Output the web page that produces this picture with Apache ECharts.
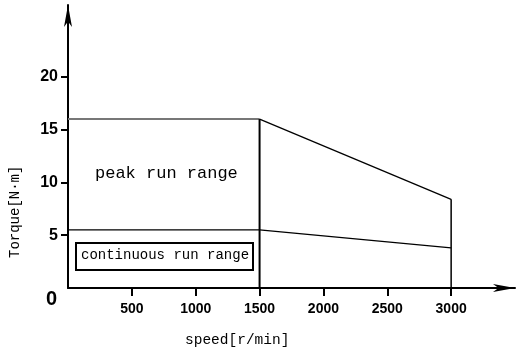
<!DOCTYPE html>
<html>
<head>
<meta charset="utf-8">
<script src="https://cdn.jsdelivr.net/npm/echarts@6/dist/echarts.min.js"></script>
<style>
  html, body { margin: 0; padding: 0; background: #fff; }
  #chart { width: 516px; height: 351px; }
</style>
</head>
<body>
<div id="chart"></div>
<script>
// corner points of the torque-speed envelope
const speedPoints = [0, 1500, 3000];
const peakTorque = [16, 16, 8.4];
const contTorque = [5.5, 5.5, 3.8];

const speedTicks = [500, 1000, 1500, 2000, 2500, 3000];
const torqueTicks = [5, 10, 15, 20];

const mono = '"Liberation Mono", "DejaVu Sans Mono", monospace';
const narrow = '"Liberation Sans Narrow", "Liberation Sans", sans-serif';

function pairs(xs, ys) {
    return xs.map((x, i) => [x, ys[i]]);
}

let peakData = pairs(speedPoints, peakTorque);
let contData = pairs(speedPoints, contTorque);
// vertical drop lines at base speed and max speed
let baseDrop = [[speedPoints[1], 0], [speedPoints[1], peakTorque[1]]];
let maxDrop = [[speedPoints[2], peakTorque[2]], [speedPoints[2], 0]];

const lineSeries = (data, color, width) => ({
    type: 'line',
    data: data,
    symbol: 'none',
    silent: true,
    animation: false,
    lineStyle: {color: color, width: width}
});

let myChart = echarts.init(document.getElementById('chart'));
let option = {
    animation: false,
    grid: {left: 68, right: 1, top: 5, bottom: 63, outerBoundsMode: 'none', containLabel: false},
    xAxis: {
        type: 'value',
        min: 0,
        max: 3500,
        splitLine: {show: false},
        axisLine: {
            lineStyle: {color: '#000', width: 2},
            symbol: ['none', 'arrow'],
            symbolSize: [6, 22]
        },
        axisTick: {
            customValues: speedTicks,
            length: 8,
            inside: false,
            lineStyle: {color: '#000', width: 2}
        },
        axisLabel: {
            customValues: speedTicks,
            formatter: v => String(v),
            margin: 14,
            color: '#000',
            fontFamily: narrow,
            fontWeight: 'bold',
            fontSize: 14
        }
    },
    yAxis: {
        type: 'value',
        min: 0,
        max: 26.8,
        splitLine: {show: false},
        axisLine: {
            lineStyle: {color: '#000', width: 2},
            symbol: ['none', 'arrow'],
            symbolSize: [6, 22]
        },
        axisTick: {
            customValues: torqueTicks,
            length: 7,
            lineStyle: {color: '#000', width: 2}
        },
        axisLabel: {
            customValues: torqueTicks,
            formatter: v => String(v),
            margin: 10,
            color: '#000',
            fontFamily: narrow,
            fontWeight: 'bold',
            fontSize: 16
        }
    },
    graphic: [
        {
            type: 'text',
            left: 46,
            top: 289,
            style: {text: '0', fontFamily: narrow, fontWeight: 'bold', fontSize: 20, fill: '#000'}
        },
        {
            type: 'text',
            x: 8,
            y: 258,
            rotation: Math.PI / 2,
            style: {text: 'Torque[N·m]', fontFamily: mono, fontSize: 14, fill: '#000', verticalAlign: 'top'}
        },
        {
            type: 'text',
            left: 185,
            top: 333,
            style: {text: 'speed[r/min]', fontFamily: mono, fontSize: 14.5, fill: '#000'}
        },
        {
            type: 'text',
            left: 95,
            top: 165,
            style: {text: 'peak run range', fontFamily: mono, fontSize: 17, fill: '#000'}
        },
        {
            type: 'rect',
            shape: {x: 76, y: 243, width: 177, height: 27},
            style: {fill: 'none', stroke: '#000', lineWidth: 2}
        },
        {
            type: 'text',
            left: 81,
            top: 248,
            style: {text: 'continuous run range', fontFamily: mono, fontSize: 14, fill: '#000'}
        }
    ],
    series: [
        lineSeries(peakData.slice(0, 2), '#777', 2),
        lineSeries(peakData.slice(1), '#000', 1.3),
        lineSeries(contData, '#000', 1.3),
        lineSeries(baseDrop, '#000', 2),
        lineSeries(maxDrop, '#000', 1.5)
    ]
};
myChart.setOption(option);
</script>
</body>
</html>
